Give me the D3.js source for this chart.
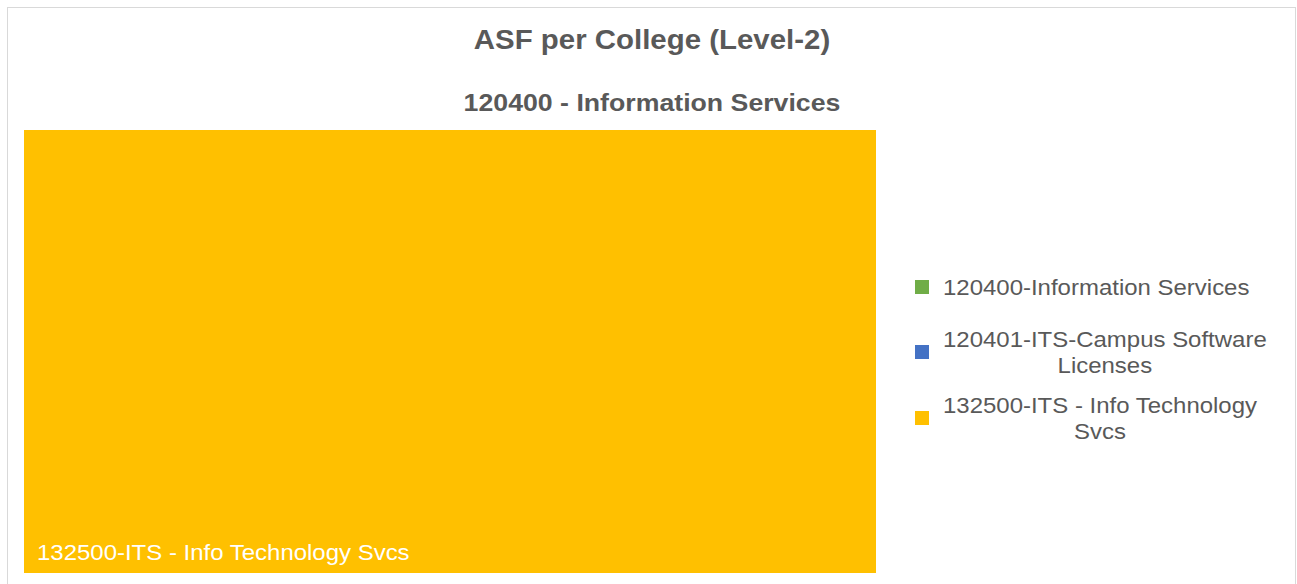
<!DOCTYPE html>
<html>
<head>
<meta charset="utf-8">
<script src="https://cdn.jsdelivr.net/npm/d3@7"></script>
<style>
  body { margin: 0; background: #fff; }
  text { font-family: "Liberation Sans", Arial, sans-serif; }
</style>
</head>
<body>
<div class="CHART"></div>
<script>
var width = 1297, height = 584;
var stretch = 1.09; // the source picture's text runs a bit wide

// data
var groupName = "120400 - Information Services";
var categories = ["120400-Information Services", "120401-ITS-Campus Software Licenses", "132500-ITS - Info Technology Svcs"];
var legendLines = [["120400-Information Services"], ["120401-ITS-Campus Software", "Licenses"], ["132500-ITS - Info Technology", "Svcs"]];
var values = [0, 0, 1];
var colors = ["#70AD47", "#4472C4", "#FFC000"];

var svg = d3.select(".CHART").append("svg")
    .attr("width", width)
    .attr("height", height);

// chart frame
svg.append("rect")
    .attr("x", 7.5).attr("y", 7.5)
    .attr("width", 1288).attr("height", 600)
    .attr("fill", "#fff")
    .attr("stroke", "#d9d9d9");

function wideText(x, y) {
    return svg.append("text")
        .attr("transform", "translate(" + x + "," + y + ") scale(" + stretch + ",1)");
}

wideText(652, 49)
    .attr("text-anchor", "middle")
    .attr("font-size", 27).attr("font-weight", "bold")
    .attr("fill", "#595959")
    .text("ASF per College (Level-2)");

wideText(652, 111)
    .attr("text-anchor", "middle")
    .attr("font-size", 24.5).attr("font-weight", "bold")
    .attr("fill", "#595959")
    .text(groupName);

var root = d3.hierarchy({name: groupName, children: categories.map(function(c, i) {
        return {name: c, value: values[i], color: colors[i]};
    })})
    .sum(function(d) { return d.value || 0; });

d3.treemap()
    .size([852, 443])
    .tile(d3.treemapSquarify)(root);

var plot = svg.append("g").attr("transform", "translate(24,130)");

var cell = plot.selectAll("g")
    .data(root.leaves().filter(function(d) { return d.value > 0; }))
    .enter().append("g")
    .attr("transform", function(d) { return "translate(" + d.x0 + "," + d.y0 + ")"; });

cell.append("rect")
    .attr("width", function(d) { return d.x1 - d.x0; })
    .attr("height", function(d) { return d.y1 - d.y0; })
    .attr("fill", function(d) { return d.data.color; });

cell.append("text")
    .attr("transform", function(d) { return "translate(13," + (d.y1 - d.y0 - 13) + ") scale(" + stretch + ",1)"; })
    .attr("font-size", 22)
    .attr("fill", "#fff")
    .text(function(d) { return d.data.name; });

// legend
var legendY = [287, 352, 418];
legendLines.forEach(function(lines, i) {
    svg.append("rect")
        .attr("x", 915).attr("y", legendY[i] - 7)
        .attr("width", 14).attr("height", 14)
        .attr("fill", colors[i]);
    var y0 = legendY[i] - (lines.length - 1) * 13.5 + 8;
    var t = wideText(943, y0)
        .attr("font-size", 22)
        .attr("fill", "#595959");
    var spans = lines.map(function(l, j) {
        return t.append("tspan").attr("x", 0).attr("y", j * 27).text(l);
    });
    var w = spans.map(function(s) { return s.node().getComputedTextLength(); });
    var maxW = d3.max(w);
    spans.forEach(function(s, j) { s.attr("x", (maxW - w[j]) / 2); });
});
</script>
</body>
</html>
